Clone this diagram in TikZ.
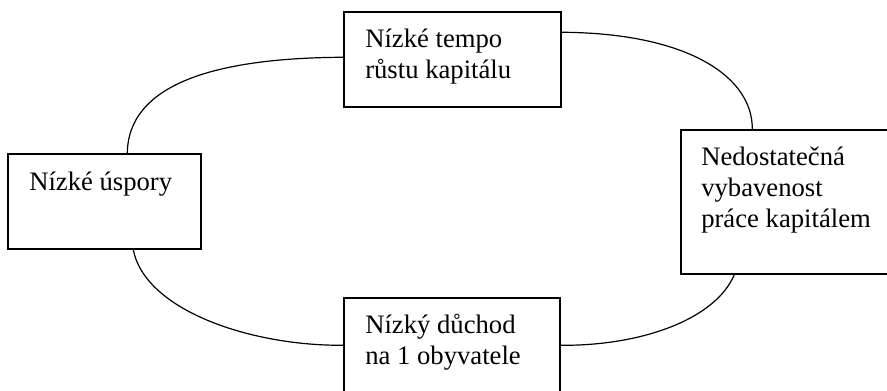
\documentclass[tikz,border=0pt]{standalone}
\usepackage{fontspec}
\setmainfont{Liberation Serif}
\usetikzlibrary{fit}
\newcommand\stk[1]{\begin{tabular}[t]{@{}l@{}}#1\end{tabular}}
\tikzset{
  box/.style={draw=black, line width=1.1pt, inner sep=0pt, rectangle},
  lbl/.style={anchor=base west, inner sep=0pt, font=\fontsize{20}{23.25}\selectfont},
  link/.style={draw=black, line width=0.9pt}
}
\begin{document}
\begin{tikzpicture}[x=0.75pt, y=-0.75pt]
\useasboundingbox (0,0) rectangle (887,390);
\clip (0,0) rectangle (887,390);
\fill[white] (0,0) rectangle (887,390);
% boxes
\node[box, fit={(344,12) (561,107)}] (tb) {};
\node[box, fit={(8,154) (201,249)}] (lb) {};
\node[box, fit={(681,130) (898,274)}] (rb) {};
\node[box, fit={(344,298) (560,400)}] (bb) {};
% texts
\node[lbl] (tbt) at (365,47) {\stk{Nízké tempo\\růstu kapitálu}};
\node[lbl] (lbt) at (29,190) {Nízké úspory};
\node[lbl] (rbt) at (701,165) {\stk{Nedostatečná\\vybavenost\\práce kapitálem}};
\node[lbl] (bbt) at (365,333) {\stk{Nízký důchod\\na 1 obyvatele}};
% connectors
\draw[link] ([yshift=-34.5pt]tb.north west) .. controls (180,58) and (128,100) .. ([xshift=90pt]lb.north west);
\draw[link] ([yshift=-15.75pt]tb.north east) .. controls (690,33) and (753,78) .. ([xshift=54pt]rb.north west);
\draw[link] ([xshift=94.5pt]lb.south west) .. controls (145,310) and (250,346) .. ([yshift=-36pt]bb.north west);
\draw[link] ([xshift=40.5pt]rb.south west) .. controls (715,320) and (640,346) .. ([yshift=-36pt]bb.north east);
\end{tikzpicture}
\end{document}
